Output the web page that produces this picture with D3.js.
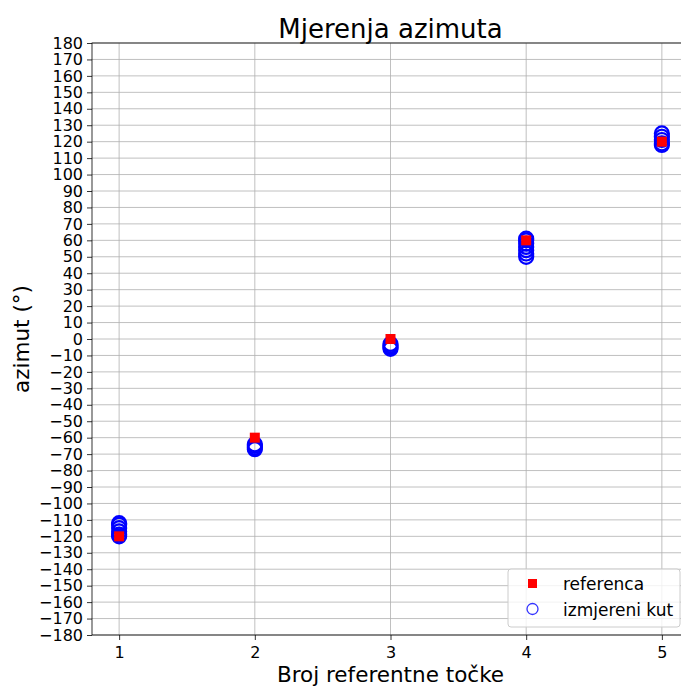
<!DOCTYPE html>
<html>
<head>
<meta charset="utf-8">
<script src="https://cdn.jsdelivr.net/npm/d3@7"></script>
<style>
  body { margin: 0; background: #fff; }
  svg { display: block; font-family: "DejaVu Sans", sans-serif; }
</style>
</head>
<body>
<svg id="chart" width="681" height="687"></svg>
<script>
// Reference azimuth of each point (degrees)
const points = [1, 2, 3, 4, 5];
const reference = [-120, -60, 0, 60, 120];
// Repeated azimuth measurements at each reference point (degrees)
const measured1 = [-112, -113, -115, -117, -119, -120];
const measured2 = [-64, -65, -66, -67];
const measured3 = [-3, -4, -5, -6];
const measured4 = [50, 52, 54, 56, 58, 60, 61];
const measured5 = [118, 119, 121, 123, 125];
const measured = [measured1, measured2, measured3, measured4, measured5];
const yTicks = d3.range(-180, 181, 10);

const svg = d3.select("#chart");
const plotL = 92, plotR = 689, plotT = 43, plotB = 635;

const x = d3.scaleLinear().domain([0.8, 5.2]).range([plotL, plotR]);
const y = d3.scaleLinear().domain([-180, 180]).range([plotB, plotT]);

const fmt = v => (v < 0 ? "\u2212" + Math.abs(v) : String(v));

// grid
const grid = svg.append("g").attr("stroke", "#b0b0b0").attr("stroke-width", 0.8);
grid.selectAll("line.gy").data(yTicks).join("line").attr("class", "gy")
  .attr("x1", plotL).attr("x2", plotR)
  .attr("y1", d => y(d)).attr("y2", d => y(d));
grid.selectAll("line.gx").data(points).join("line").attr("class", "gx")
  .attr("x1", d => x(d)).attr("x2", d => x(d))
  .attr("y1", plotT).attr("y2", plotB);

// axes
const yAxis = d3.axisLeft(y).tickValues(yTicks).tickFormat(fmt).tickSize(5).tickPadding(4);
const xAxis = d3.axisBottom(x).tickValues(points).tickFormat(d3.format("d")).tickSize(5).tickPadding(4);

const gy = svg.append("g").attr("transform", `translate(${plotL},0)`).call(yAxis);
const gx = svg.append("g").attr("transform", `translate(0,${plotB})`).call(xAxis);
[gx, gy].forEach(g => {
  g.select(".domain").remove();
  g.selectAll("text").attr("font-size", 16).attr("fill", "#000").attr("font-family", "DejaVu Sans");
  g.selectAll("line").attr("stroke", "#000").attr("stroke-width", 0.8);
});
gx.selectAll("text").attr("dy", "0.9em");

// frame
svg.append("rect").attr("x", plotL).attr("y", plotT)
  .attr("width", plotR - plotL).attr("height", plotB - plotT)
  .attr("fill", "none").attr("stroke", "#000").attr("stroke-width", 0.8);

// measured azimuths
const meas = points.flatMap((p, i) => measured[i].map(v => ({ p, v })));
svg.append("g").selectAll("circle").data(meas).join("circle")
  .attr("cx", d => x(d.p)).attr("cy", d => y(d.v)).attr("r", 7)
  .attr("fill", "none").attr("stroke", "#0000ff").attr("stroke-width", 2.2);

// reference azimuths
svg.append("g").selectAll("rect").data(points).join("rect")
  .attr("x", (d) => x(d) - 5).attr("y", (d, i) => y(reference[i]) - 5)
  .attr("width", 10).attr("height", 10).attr("fill", "#ff0000");

// title and labels
svg.append("text").attr("x", (plotL + plotR) / 2).attr("y", 38)
  .attr("text-anchor", "middle").attr("font-size", 26).text("Mjerenja azimuta");
svg.append("text").attr("x", (plotL + plotR) / 2).attr("y", 682)
  .attr("text-anchor", "middle").attr("font-size", 21.5).text("Broj referentne točke");
svg.append("text").attr("transform", `translate(29,${(plotT + plotB) / 2}) rotate(-90)`)
  .attr("text-anchor", "middle").attr("font-size", 21.5).text("azimut (°)");

// legend
const lg = svg.append("g");
lg.append("rect").attr("x", 508).attr("y", 569).attr("width", 172).attr("height", 58)
  .attr("rx", 3).attr("fill", "#fff").attr("fill-opacity", 0.8)
  .attr("stroke", "#cccccc").attr("stroke-width", 1);
lg.append("rect").attr("x", 528).attr("y", 579).attr("width", 9).attr("height", 9).attr("fill", "#ff0000");
lg.append("circle").attr("cx", 532.5).attr("cy", 609).attr("r", 5.5)
  .attr("fill", "none").attr("stroke", "#0000ff").attr("stroke-width", 1.3).attr("stroke-opacity", 0.8);
lg.append("text").attr("x", 563).attr("y", 590).attr("font-size", 17).text("referenca");
lg.append("text").attr("x", 563).attr("y", 616).attr("font-size", 17).text("izmjereni kut");
</script>
</body>
</html>
